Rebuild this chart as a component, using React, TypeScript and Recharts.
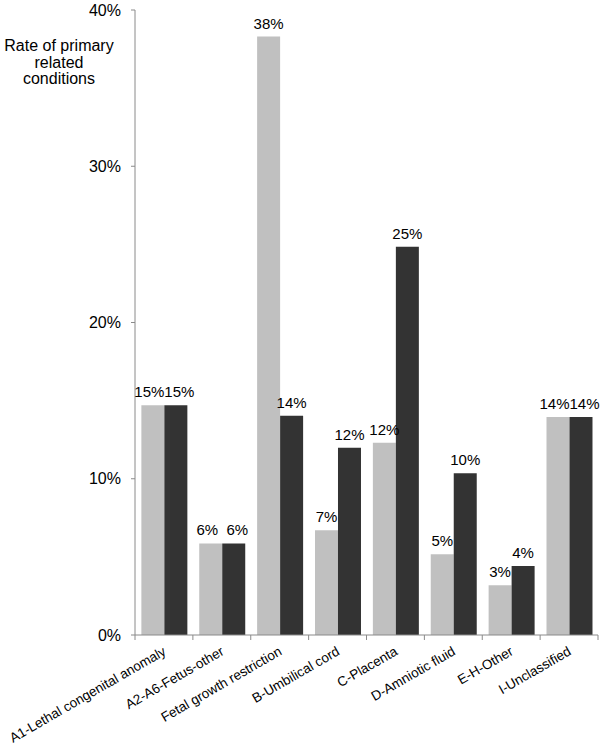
import { BarChart, Bar, XAxis, YAxis, LabelList } from 'recharts';

const categories = [
  'A1-Lethal congenital anomaly',
  'A2-A6-Fetus-other',
  'Fetal growth restriction',
  'B-Umbilical cord',
  'C-Placenta',
  'D-Amniotic fluid',
  'E-H-Other',
  'I-Unclassified',
];
const lightValues = [14.7, 5.86, 38.3, 6.71, 12.31, 5.17, 3.19, 13.95];
const darkValues = [14.7, 5.86, 14.04, 11.99, 24.85, 10.35, 4.42, 13.95];
const yTicks = [0, 10, 20, 30, 40];

const data = categories.map((name, i) => ({ name, light: lightValues[i], dark: darkValues[i] }));

const FONT = 'Liberation Sans, Arial, Helvetica, sans-serif';
const AXIS = '#8a8a8a';
const BAND = (600 - 135 - 2) / categories.length;

const CatTick = (props: any) => {
  const { x, y, payload, index } = props;
  const half = payload?.offset ?? BAND / 2;
  const last = index === categories.length - 1;
  const tx = x + 3;
  const ty = y + 11;
  return (
    <g>
      <line x1={x - half} x2={x - half} y1={y - 8} y2={y - 3} stroke={AXIS} />
      {last && <line x1={x + half} x2={x + half} y1={y - 8} y2={y - 3} stroke={AXIS} />}
      <text
        x={tx}
        y={ty}
        transform={`rotate(-30 ${tx} ${ty})`}
        textAnchor="end"
        fontSize={13.5}
        fontFamily={FONT}
        fill="#000"
      >
        {payload.value}
      </text>
    </g>
  );
};

const YTitle = () => (
  <text x={59} textAnchor="middle" fontSize={16} fontFamily={FONT} fill="#000">
    <tspan x={59} y={51}>Rate of primary</tspan>
    <tspan x={59} y={68}>related</tspan>
    <tspan x={59} y={84}>conditions</tspan>
  </text>
);

const fmt = (v: number) => `${Math.round(v)}%`;

// value label; pairs that round to the same value are pushed apart a little
const makeLabel = (series: 'light' | 'dark') => (props: any) => {
  const { x, y, width, index, value } = props;
  const same = fmt(lightValues[index]) === fmt(darkValues[index]);
  const nudge = same ? (series === 'light' ? -3.5 : 3.5) : 0;
  return (
    <text
      x={x + width / 2 + nudge}
      y={y - 8}
      textAnchor="middle"
      fontSize={15}
      fontFamily={FONT}
      fill="#000"
    >
      {fmt(Number(value))}
    </text>
  );
};

export default function App() {
  return (
    <div style={{ position: 'absolute', left: 0, top: 0, background: '#fff' }}>
      <BarChart
        width={600}
        height={747}
        data={data}
        margin={{ top: 10, right: 2, left: 0, bottom: 0 }}
        barCategoryGap="11%"
        barGap={0}
      >
        <XAxis
          dataKey="name"
          interval={0}
          stroke={AXIS}
          tickLine={false}
          tick={<CatTick />}
          height={112}
        />
        <YAxis
          domain={[0, 40]}
          ticks={yTicks}
          interval={0}
          width={135}
          stroke={AXIS}
          tickSize={4}
          tickMargin={10}
          tickFormatter={(v) => `${v}%`}
          tick={{ fontSize: 16, fontFamily: FONT, fill: '#000' }}
          label={<YTitle />}
        />
        <Bar dataKey="light" fill="#c0c0c0" isAnimationActive={false}>
          <LabelList dataKey="light" content={makeLabel('light')} />
        </Bar>
        <Bar dataKey="dark" fill="#333333" isAnimationActive={false}>
          <LabelList dataKey="dark" content={makeLabel('dark')} />
        </Bar>
      </BarChart>
    </div>
  );
}
